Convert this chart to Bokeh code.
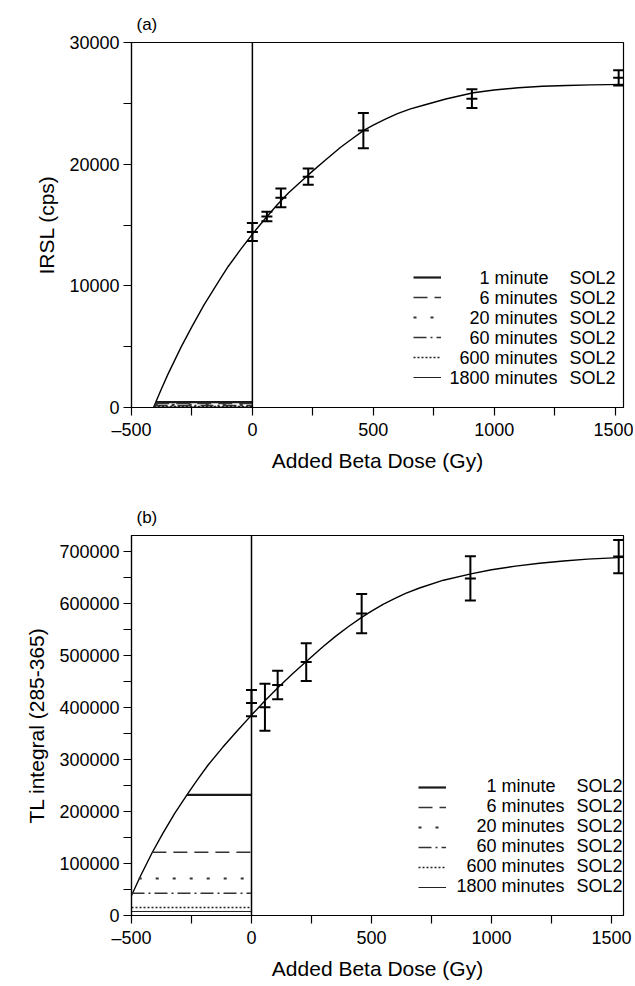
from bokeh.plotting import figure
from bokeh.models import (Range1d, FixedTicker, Span, Whisker, TeeHead, ColumnDataSource,
                          Legend, LegendItem, Label)
from bokeh.layouts import column
from bokeh.embed import file_html
from bokeh.resources import INLINE
from bokeh.core.properties import value

FONT = "Liberation Sans"

# ---------------- data ----------------
durations = ["1 minute", "6 minutes", "20 minutes", "60 minutes", "600 minutes", "1800 minutes"]
sample_name = "SOL2"

x_ticks = [-500, -250, 0, 250, 500, 750, 1000, 1250, 1500]
x_tick_labels = ["\u2013500", "", "0", "", "500", "", "1000", "", "1500"]

# panel (a) IRSL
a_dose = [0, 60, 118, 231, 459, 908, 1515]
a_irsl = [14425, 15695, 17230, 18975, 22760, 25380, 27100]
a_err = [735, 395, 780, 675, 1450, 770, 625]
a_fit_x = [-409, -380, -350, -294, -250, -200, -133, -100, -50, 0, 50, 100, 150, 200, 250, 300,
           365, 400, 459, 500, 550, 600, 654, 700, 800, 914, 1000, 1100, 1200, 1300, 1400, 1540]
a_fit_y = [0, 1350, 2700, 5000, 6650, 8430, 10570, 11590, 12950, 14250, 15450, 16600, 17650,
           18550, 19450, 20300, 21390, 21900, 22760, 23210, 23710, 24150, 24550, 24800, 25360,
           25870, 26100, 26280, 26400, 26470, 26520, 26560]
a_short_y = [450, 330, 220, 170, 80, 40]
a_short_x0 = [-399, -402, -404, -405, -407, -408]
a_y_ticks = [0, 5000, 10000, 15000, 20000, 25000, 30000]
a_y_tick_labels = ["0", "", "10000", "", "20000", "", "30000"]

# panel (b) TL
b_dose = [0, 56, 109, 228, 459, 912, 1530]
b_tl = [408650, 400600, 443300, 487500, 580800, 648400, 690400]
b_err = [25350, 45000, 27300, 36200, 37900, 42600, 32100]
b_fit_x = [-500, -460, -413, -370, -320, -269, -228, -180, -120, -60, 0, 56, 113, 170, 228, 300,
           350, 403, 459, 500, 550, 600, 642, 700, 800, 914, 1000, 1100, 1200, 1300, 1400, 1549]
b_fit_y = [38500, 78500, 121700, 157400, 196400, 232100, 259600, 290000, 323500, 355000, 385500,
           413000, 439500, 464500, 488500, 518000, 537000, 555500, 573500, 585500, 599000, 610500,
           619500, 630000, 645000, 657100, 665000, 672000, 677500, 682000, 685500, 689000]
b_short_y = [232100, 121700, 71200, 42900, 15400, 7700]
b_short_x0 = [-269, -413, -470, -500, -500, -500]
b_y_ticks = [0, 50000, 100000, 150000, 200000, 250000, 300000, 350000, 400000,
             450000, 500000, 550000, 600000, 650000, 700000]
b_y_tick_labels = ["0", "", "100000", "", "200000", "", "300000", "", "400000",
                   "", "500000", "", "600000", "", "700000"]

zero_dose = 0

# ---------------- styles ----------------
dashes = ["solid", "14 7", "3 14", "13 4 2 4", "2 2", "solid"]
widths = [2.2, 1.6, 2.0, 1.6, 1.6, 1.0]
colors = ["#1a1a1a", "#333333", "#333333", "#333333", "#222222", "#222222"]


def make_panel(title, ylabel, xr, yr, yticks, ylabels, dose, val, err, fx, fy, sx0, sy,
               height, top, bottom, right, leg_x, leg_bottom, row0, row_h, txt_right, sol_left):
    p = figure(width=633, height=height, x_range=Range1d(*xr), y_range=Range1d(*yr),
               min_border_left=131, min_border_right=right, min_border_top=top,
               min_border_bottom=bottom, output_backend="svg", toolbar_location=None)
    p.grid.visible = False
    p.outline_line_color = "black"
    p.outline_line_width = 1.2
    p.outline_line_alpha = 1

    p.title.text = title
    p.title.text_font = FONT
    p.title.text_font_size = "17px"
    p.title.text_font_style = "normal"
    p.title.text_color = "black"
    p.title.align = "left"
    p.title.offset = 5
    p.title.standoff = 17

    for ax in (p.xaxis[0], p.yaxis[0]):
        ax.axis_line_color = "black"
        ax.axis_line_width = 1.2
        ax.major_tick_line_color = "black"
        ax.major_tick_line_width = 1.2
        ax.major_tick_in = 0
        ax.major_tick_out = 8
        ax.minor_tick_line_color = None
        ax.major_label_text_font = FONT
        ax.major_label_text_font_size = "18px"
        ax.major_label_text_color = "black"
        ax.axis_label_text_font = FONT
        ax.axis_label_text_font_size = "21px"
        ax.axis_label_text_font_style = "normal"
        ax.axis_label_text_color = "black"
        ax.major_label_standoff = 4

    p.xaxis.ticker = FixedTicker(ticks=x_ticks)
    p.xaxis.major_label_overrides = dict(zip(x_ticks, x_tick_labels))
    p.xaxis.axis_label = "Added Beta Dose (Gy)"
    p.xaxis.axis_label_standoff = 6
    p.yaxis.ticker = FixedTicker(ticks=yticks)
    p.yaxis.major_label_overrides = dict(zip(yticks, ylabels))
    p.yaxis.axis_label = ylabel
    p.yaxis.axis_label_standoff = 8

    p.add_layout(Span(location=zero_dose, dimension="height", line_color="black", line_width=1.5))

    p.line(fx, fy, line_color="black", line_width=1.4)

    src = ColumnDataSource(dict(x=dose, y=val,
                                lo=[v - e for v, e in zip(val, err)],
                                hi=[v + e for v, e in zip(val, err)]))
    p.add_layout(Whisker(base="x", lower="lo", upper="hi", source=src, dimension="height",
                         line_color="black", line_width=2,
                         upper_head=TeeHead(size=11, line_width=2, line_color="black"),
                         lower_head=TeeHead(size=11, line_width=2, line_color="black")))
    p.scatter("x", "y", source=src, marker="dash", size=11, line_width=2, line_color="black")

    items = []
    for i in range(len(durations)):
        r = p.line([sx0[i], zero_dose], [sy[i], sy[i]], line_color=colors[i],
                   line_width=widths[i], line_dash=dashes[i])
        items.append(LegendItem(label=value(" "), renderers=[r]))
    leg = Legend(items=items, location=(leg_x, leg_bottom), orientation="vertical",
                 glyph_width=28, glyph_height=row_h, label_height=row_h, label_width=0,
                 label_standoff=0, spacing=0, padding=0, margin=0,
                 border_line_alpha=0, background_fill_alpha=0, label_text_font_size="8px")
    p.add_layout(leg)

    for i, lab in enumerate(durations):
        yy = row0 - i * row_h
        xr_ = txt_right - (0 if lab.endswith("s") else 9)
        p.add_layout(Label(x=xr_, y=yy, x_units="screen", y_units="screen", text=lab,
                           text_align="right", text_baseline="middle",
                           text_font=FONT, text_font_size="18px", text_color="black"))
        p.add_layout(Label(x=sol_left, y=yy, x_units="screen", y_units="screen", text=sample_name,
                           text_align="left", text_baseline="middle",
                           text_font=FONT, text_font_size="18px", text_color="black"))
    return p


pa = make_panel("(a)", "IRSL (cps)", (-500, 1535), (0, 30000), a_y_ticks, a_y_tick_labels,
                a_dose, a_irsl, a_err, a_fit_x, a_fit_y, a_short_x0, a_short_y,
                height=474, top=42, bottom=66, right=10,
                leg_x=282, leg_bottom=20, row0=130, row_h=20, txt_right=426, sol_left=438)

pb = make_panel("(b)", "TL integral (285-365)", (-500, 1550), (0, 731000), b_y_ticks, b_y_tick_labels,
                b_dose, b_tl, b_err, b_fit_x, b_fit_y, b_short_x0, b_short_y,
                height=512, top=61, bottom=71, right=5,
                leg_x=287, leg_bottom=18, row0=130, row_h=20, txt_right=433, sol_left=445)

layout = column(pa, pb, spacing=0)
open("out.html", "w").write(file_html(layout, INLINE))
